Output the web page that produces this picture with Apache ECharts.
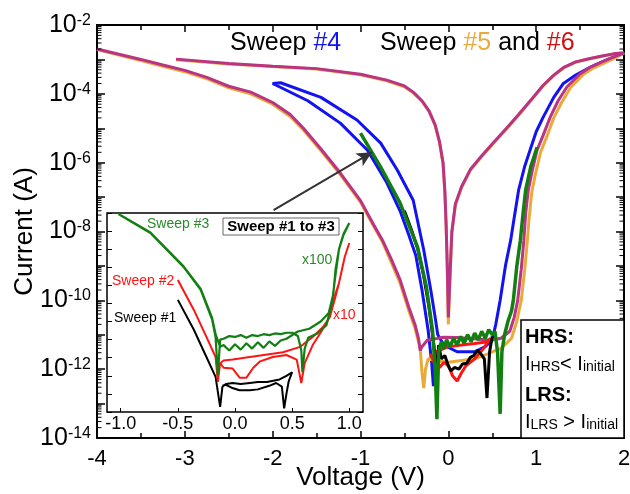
<!DOCTYPE html>
<html><head><meta charset="utf-8">
<script src="https://cdn.jsdelivr.net/npm/echarts@6/dist/echarts.min.js"></script>
<style>html,body{margin:0;padding:0;background:#fff}#c{width:630px;height:494px}</style>
</head><body><div id="c"></div>
<script>
// ---------- data (Voltage V, Current A) ----------
const sweep4 = [[-0.15,3.2e-12],[-0.17,3.2e-13],[-0.19,1.58e-12],[-0.23,1.35e-11],[-0.3,2e-10],[-0.37,2e-9],[-0.45,7.9e-9],[-0.55,4e-8],[-0.7,2.6e-7],[-0.92,2.3e-6],[-1.23,1.41e-5],[-1.6,6.3e-5],[-2.0,2e-4],[-1.91,2.1e-4],[-1.45,7.9e-5],[-1.04,1.74e-5],[-0.77,3.7e-6],[-0.58,6e-7],[-0.4,8.1e-8],[-0.28,2.9e-9],[-0.2,2e-10],[-0.15,3.2e-11],[-0.12,1e-11],[-0.05,5e-12],[0.1,3.2e-12],[0.3,3.2e-12],[0.42,4.5e-12],[0.5,7.1e-12],[0.54,2e-11],[0.59,1e-10],[0.65,1e-9],[0.71,5.6e-9],[0.74,1.74e-8],[0.8,1.58e-7],[0.87,7.9e-7],[0.93,2.3e-6],[1.0,7.9e-6],[1.08,2.1e-5],[1.2,7.9e-5],[1.31,2e-4],[1.45,3.5e-4],[1.62,6e-4],[1.75,8.5e-4],[1.88,1.17e-3],[2.0,1.5e-3]];
const sweep5 = [[-3.1,9.8e-4],[-2.5,7.4e-4],[-2.0,6.2e-4],[-1.5,5.3e-4],[-1.0,3.6e-4],[-0.7,2.4e-4],[-0.5,1.6e-4],[-0.4,1.07e-4],[-0.3,6e-5],[-0.22,3.1e-5],[-0.15,1.2e-5],[-0.1,3.8e-6],[-0.06,9e-7],[-0.04,1.4e-7],[-0.025,1.4e-8],[-0.012,8e-10],[0.0,2e-11],[0.02,5.6e-10],[0.04,9e-9],[0.08,5.8e-8],[0.15,1.9e-7],[0.25,6e-7],[0.38,1.5e-6],[0.52,3.8e-6],[0.68,1.07e-5],[0.8,2.4e-5],[0.95,6.8e-5],[1.08,1.7e-4],[1.2,3.4e-4],[1.32,5.8e-4],[1.45,8.3e-4],[1.6,1.03e-3],[1.75,1.24e-3],[1.88,1.43e-3],[2.0,1.55e-3],[1.9,1.1e-3],[1.78,7.9e-4],[1.65,5.6e-4],[1.53,3.5e-4],[1.39,1.5e-4],[1.29,5.6e-5],[1.2,2e-5],[1.12,5.6e-6],[1.05,2e-6],[0.99,4.5e-7],[0.95,1.4e-7],[0.92,2.5e-8],[0.9,5.6e-9],[0.87,7.9e-10],[0.83,1e-10],[0.78,2.5e-11],[0.72,7.9e-12],[0.6,4e-12],[0.54,3.5e-12],[0.45,2.8e-12],[0.3,2e-12],[0.15,1.78e-12],[0.0,1.58e-12],[-0.15,1.78e-12],[-0.23,2e-12],[-0.26,1e-12],[-0.28,2.8e-13],[-0.3,7.9e-13],[-0.32,4e-12],[-0.35,7.9e-12],[-0.38,1.58e-11],[-0.45,5e-11],[-0.55,3.2e-10],[-0.65,1.26e-9],[-0.75,5e-9],[-0.85,1.41e-8],[-1.0,7.1e-8],[-1.23,4.5e-7],[-1.45,2.2e-6],[-1.65,8.9e-6],[-1.8,2.2e-5],[-2.0,5e-5],[-2.25,1e-4],[-2.5,1.5e-4],[-2.75,2.75e-4],[-3.0,4.4e-4],[-3.25,6.3e-4],[-3.5,9.3e-4],[-3.75,1.35e-3],[-4.0,1.95e-3]];
const sweep6 = [[-3.1,1.02e-3],[-2.5,7.6e-4],[-2.0,6.3e-4],[-1.5,5.4e-4],[-1.0,3.7e-4],[-0.7,2.5e-4],[-0.5,1.7e-4],[-0.4,1.12e-4],[-0.3,6.3e-5],[-0.22,3.2e-5],[-0.15,1.26e-5],[-0.1,4e-6],[-0.06,1e-6],[-0.04,1.58e-7],[-0.025,1.58e-8],[-0.012,1e-9],[0.0,3.2e-11],[0.02,6.3e-10],[0.04,1e-8],[0.08,6.3e-8],[0.15,2e-7],[0.25,6.3e-7],[0.38,1.58e-6],[0.52,4e-6],[0.68,1.12e-5],[0.8,2.5e-5],[0.95,7.1e-5],[1.08,1.78e-4],[1.2,3.5e-4],[1.32,6e-4],[1.45,8.5e-4],[1.6,1.05e-3],[1.75,1.26e-3],[1.88,1.45e-3],[2.0,1.55e-3],[1.88,1.17e-3],[1.75,8.5e-4],[1.62,6e-4],[1.5,3.8e-4],[1.35,1.58e-4],[1.25,6.3e-5],[1.16,2.1e-5],[1.08,6.3e-6],[1.01,2.3e-6],[0.95,5e-7],[0.91,1.58e-7],[0.88,3.2e-8],[0.86,5.6e-9],[0.83,7.9e-10],[0.79,1e-10],[0.75,3.2e-11],[0.7,1.26e-11],[0.6,7.9e-12],[0.48,6.9e-12],[0.3,7.6e-12],[0.1,8.3e-12],[-0.06,8.5e-12],[-0.15,7.6e-12],[-0.24,6.9e-12],[-0.3,4.5e-12],[-0.32,3.5e-12],[-0.34,7.9e-12],[-0.38,2e-11],[-0.45,6.3e-11],[-0.55,4e-10],[-0.65,1.58e-9],[-0.75,5.6e-9],[-0.85,1.58e-8],[-1.0,7.9e-8],[-1.23,5e-7],[-1.45,2.5e-6],[-1.65,1e-5],[-1.8,2.5e-5],[-2.0,5.6e-5],[-2.25,1.12e-4],[-2.5,1.66e-4],[-2.75,3e-4],[-3.0,4.8e-4],[-3.25,6.9e-4],[-3.5,1e-3],[-3.75,1.41e-3],[-4.0,2e-3]];
const sweep3 = [[-1.0,7.2e-6],[-0.77,7.4e-7],[-0.55,6.8e-8],[-0.35,3.5e-9],[-0.25,2.5e-10],[-0.18,1.35e-11],[-0.15,1e-12],[-0.13,3.5e-14],[-0.11,3.2e-12],[-0.08,6.3e-12],[-0.05,4e-12],[-0.02,7.1e-12],[0.02,4.5e-12],[0.06,7.9e-12],[0.1,5e-12],[0.14,8.9e-12],[0.18,5.6e-12],[0.22,1e-11],[0.26,6.3e-12],[0.3,1.12e-11],[0.34,7.1e-12],[0.38,1.26e-11],[0.42,7.9e-12],[0.46,1.41e-11],[0.5,1e-11],[0.53,1.26e-11],[0.56,3.2e-12],[0.59,5e-14],[0.61,3.2e-12],[0.64,1e-11],[0.68,2.5e-11],[0.72,5e-11],[0.74,1e-10],[0.78,1e-9],[0.82,5.6e-9],[0.85,3.2e-8],[0.88,1.58e-7],[0.94,7.9e-7],[1.01,2.8e-6]];
const sweep2 = [[-0.2,2.8e-12],[-0.15,1.26e-12],[-0.1,1.12e-12],[-0.05,1.58e-12],[0.0,1.26e-12],[0.05,6.3e-13],[0.1,4.5e-13],[0.15,7.9e-13],[0.2,1.26e-12],[0.3,2e-12],[0.4,4e-12],[0.48,7.9e-12],[0.45,6.3e-12],[0.3,5.6e-12],[0.15,5e-12],[0.0,4.5e-12],[-0.1,3.5e-12],[-0.15,3.2e-12]];
const sweep1 = [[-0.5,4e-8],[-0.42,1.12e-8],[-0.35,3.2e-9],[-0.28,5e-10],[-0.22,6.3e-11],[-0.18,1e-11],[-0.15,2.5e-12],[-0.13,4e-13],[-0.11,5e-12],[-0.08,2e-12],[-0.04,2.5e-12],[0.0,1.26e-12],[0.03,8.9e-13],[0.07,1.12e-12],[0.12,1e-12],[0.16,1.41e-12],[0.21,1.48e-12],[0.25,2.2e-12],[0.29,2.5e-12],[0.33,3.5e-12],[0.37,2.8e-12],[0.41,2e-12],[0.44,1.45e-13],[0.47,3.2e-12],[0.5,8.9e-12]];
// inset (displayed, scaled) data
const inset3 = [[-1.02,8.7e-4],[-0.74,7.9e-5],[-0.45,1.05e-6],[-0.3,5.6e-8],[-0.2,1.26e-9],[-0.17,1.41e-10],[-0.15,1.12e-12],[-0.13,1e-10],[-0.1,1.12e-10],[-0.05,1.58e-10],[0.0,1.41e-10],[0.05,1.78e-10],[0.1,1.26e-10],[0.15,1.78e-10],[0.2,1.58e-10],[0.25,2e-10],[0.3,1.78e-10],[0.35,2.2e-10],[0.4,2e-10],[0.45,2.4e-10],[0.5,2.4e-10],[0.55,1.58e-10],[0.58,2.5e-11],[0.59,1.58e-12],[0.61,3.2e-11],[0.64,1.26e-10],[0.72,2.2e-10],[0.8,6.3e-10],[0.85,1.26e-8],[0.88,4e-7],[0.91,1e-5],[0.95,7.1e-5],[1.0,2.8e-4],[0.95,6.3e-5],[0.91,1e-5],[0.88,7.9e-7],[0.86,3.2e-8],[0.82,3e-9],[0.75,1e-9],[0.65,4e-10],[0.55,2.8e-10],[0.45,1.12e-10],[0.4,8.9e-11],[0.35,4.5e-11],[0.3,7.9e-11],[0.25,3.5e-11],[0.2,7.1e-11],[0.15,3.2e-11],[0.1,6.3e-11],[0.05,2.8e-11],[0.0,5.6e-11],[-0.05,2.5e-11],[-0.1,5e-11],[-0.13,4e-11],[-0.17,2e-10],[-0.2,1.58e-9],[-0.3,6.3e-8],[-0.45,1.12e-6],[-0.74,8.3e-5],[-1.0,7.6e-4]];
const inset2 = [[-0.5,2e-7],[-0.36,4.4e-9],[-0.25,1.41e-10],[-0.17,1.1e-11],[-0.15,4.6e-13],[-0.13,5e-12],[-0.1,2.8e-12],[-0.02,2.5e-12],[0.04,7.9e-13],[0.1,7.9e-13],[0.16,2.8e-12],[0.22,6.3e-12],[0.33,1.1e-11],[0.45,1.41e-11],[0.54,7.9e-12],[0.58,4e-13],[0.61,5e-12],[0.68,5e-11],[0.75,2.5e-10],[0.83,1.78e-9],[0.88,2.5e-8],[0.91,1.35e-7],[0.96,3.7e-6],[1.0,2.2e-5],[0.96,3.7e-6],[0.91,1.35e-7],[0.87,2.3e-8],[0.83,1.78e-9],[0.77,5e-10],[0.68,1.41e-10],[0.57,4e-11],[0.42,2e-11],[0.13,1.1e-11],[-0.02,7.9e-12],[-0.1,7.1e-12],[-0.13,5e-12]];
const inset1 = [[-0.5,1.58e-8],[-0.36,3.5e-10],[-0.25,1.1e-11],[-0.17,8.7e-13],[-0.13,1.9e-14],[-0.11,2.5e-13],[-0.08,3.5e-13],[-0.02,4e-13],[0.05,3.5e-13],[0.13,4e-13],[0.2,4.5e-13],[0.28,4.6e-13],[0.39,6.3e-13],[0.45,1e-12],[0.5,1.58e-12],[0.47,5e-13],[0.45,1e-13],[0.43,1.58e-14],[0.41,2.5e-13],[0.36,4e-13],[0.3,2.8e-13],[0.2,1.78e-13],[0.13,1.58e-13],[0.04,1.58e-13],[-0.03,2.2e-13],[-0.08,3.2e-13],[-0.11,2.8e-13]];
const arrowFrom = [-1.99, 4.2e-8];
const arrowTo = [-0.87, 2.0e-6];
const xRange = [-4, 2];
const yRange = [1e-14, 1e-2];
const insetX = [-1.12, 1.12];
const insetY = [1e-14, 1e-3];

// ---------- styling ----------
const FONT = "'Liberation Sans', Arial, sans-serif";
const C = {blue:'#1212F2', orange:'#EAA93B', mag:'#BA3483', green:'#127F12', red:'#FF1414', black:'#000', red6:'#D01010'};

const minorVals = [];
for (let d = -14; d < -2; d++) for (let k = 2; k <= 9; k++) minorVals.push([xRange[0], k * Math.pow(10, d)]);

function line(name, data, color, width, xi, yi, z) {
  return {name, type:'line', data, xAxisIndex:xi, yAxisIndex:yi, showSymbol:false, symbol:'none',
    lineStyle:{color, width}, itemStyle:{color}, z: z || 2, silent:true, animation:false};
}
const axisLineStyle = {onZero:false, lineStyle:{color:'#000', width:2}};
const tickStyle = {lineStyle:{color:'#000', width:1.5}};

const chart = echarts.init(document.getElementById('c'), null, {renderer:'canvas'});
const option = {
  animation:false,
  backgroundColor:'#fff',
  textStyle:{fontFamily:FONT},
  grid:[
    {left:97, top:25, width:527, height:413, show:false, containLabel:false, outerBoundsMode:'none'},
    {left:107, top:213, width:256, height:199, show:true, backgroundColor:'#fff', borderColor:'#000', borderWidth:1.5, containLabel:false, outerBoundsMode:'none'}
  ],
  xAxis:[
    {gridIndex:0, type:'value', min:xRange[0], max:xRange[1], interval:1, position:'bottom',
      axisLine:axisLineStyle, axisTick:Object.assign({inside:true, length:7}, tickStyle),
      minorTick:Object.assign({show:true, splitNumber:2, length:5}, tickStyle), splitLine:{show:false},
      axisLabel:{fontSize:22, color:'#000', margin:10, fontFamily:FONT},
      name:'Voltage (V)', nameLocation:'middle', nameGap:27, nameMoveOverlap:false,
      nameTextStyle:{fontSize:26, color:'#000', fontFamily:FONT}},
    {gridIndex:0, type:'value', min:xRange[0], max:xRange[1], interval:1, position:'top',
      axisLine:axisLineStyle, axisTick:Object.assign({inside:true, length:7}, tickStyle),
      minorTick:Object.assign({show:true, splitNumber:2, length:5}, tickStyle), splitLine:{show:false}, axisLabel:{show:false}},
    {gridIndex:1, type:'value', min:insetX[0], max:insetX[1], splitNumber:5, position:'bottom',
      axisLine:{show:false, onZero:false}, axisTick:{inside:true, length:4, lineStyle:{color:'#000', width:1}}, splitLine:{show:false},
      axisLabel:{fontSize:18, color:'#000', margin:3, showMinLabel:false, showMaxLabel:false, fontFamily:FONT,
        formatter:v => (Math.abs(v) < 1e-9 ? 0 : v).toFixed(1)}}
  ],
  yAxis:[
    {gridIndex:0, type:'log', logBase:10, min:yRange[0], max:yRange[1], interval:1, position:'left',
      axisLine:axisLineStyle, axisTick:Object.assign({inside:true, length:8}, tickStyle), splitLine:{show:false},
      axisLabel:{margin:6, color:'#000', fontFamily:FONT,
        formatter:v => { const e = Math.round(Math.log10(v)); return (e % 2 === 0) ? '{b|10}{s|' + e + '}' : ''; },
        rich:{b:{fontSize:25, lineHeight:25, verticalAlign:'top', fontFamily:FONT, color:'#000'},
              s:{fontSize:16, lineHeight:16, verticalAlign:'top', fontFamily:FONT, color:'#000'}}},
      name:'Current (A)', nameLocation:'middle', nameGap:59, nameMoveOverlap:false,
      nameTextStyle:{fontSize:26, color:'#000', fontFamily:FONT}},
    {gridIndex:0, type:'log', logBase:10, min:yRange[0], max:yRange[1], interval:1, position:'right',
      axisLine:axisLineStyle, axisTick:Object.assign({inside:true, length:8}, tickStyle), splitLine:{show:false}, axisLabel:{show:false}},
    {gridIndex:1, type:'log', logBase:10, min:insetY[0], max:insetY[1], interval:1, position:'left',
      axisLine:{show:false, onZero:false}, axisTick:{inside:true, length:5, lineStyle:{color:'#000', width:1}}, splitLine:{show:false}, axisLabel:{show:false}},
    {gridIndex:1, type:'log', logBase:10, min:insetY[0], max:insetY[1], interval:1, position:'right',
      axisLine:{show:false, onZero:false}, axisTick:{inside:true, length:5, lineStyle:{color:'#000', width:1}}, splitLine:{show:false}, axisLabel:{show:false}}
  ],
  series:[
    {type:'custom', xAxisIndex:0, yAxisIndex:0, data:minorVals, silent:true, clip:false, z:3,
      renderItem:(params, api) => {
        const v = api.value(1);
        const a = api.coord([xRange[0], v]);
        const b = api.coord([xRange[1], v]);
        return {type:'group', children:[
          {type:'line', shape:{x1:a[0], y1:a[1], x2:a[0] + 4.5, y2:a[1]}, style:{stroke:'#000', lineWidth:1}},
          {type:'line', shape:{x1:b[0] - 4.5, y1:b[1], x2:b[0], y2:b[1]}, style:{stroke:'#000', lineWidth:1}}
        ]};
      }},
    line('Sweep #4', sweep4, C.blue, 3, 0, 0),
    line('Sweep #5', sweep5, C.orange, 3, 0, 0),
    line('Sweep #6', sweep6, C.mag, 3, 0, 0),
    line('Sweep #2', sweep2, C.red, 3, 0, 0),
    Object.assign(line('Sweep #1', sweep1, C.black, 3, 0, 0), {
      markLine:{silent:true, symbol:['none','arrow'], symbolSize:[11, 15], label:{show:false},
        lineStyle:{color:'#333', width:2, type:'solid'}, emphasis:{disabled:true},
        data:[[{coord:arrowFrom}, {coord:arrowTo}]]}}),
    line('Sweep #3', sweep3, C.green, 3.5, 0, 0),
    line('Inset #1', inset1, C.black, 2, 2, 2, 5),
    line('Inset #2', inset2, C.red, 2, 2, 2, 5),
    line('Inset #3', inset3, C.green, 2.2, 2, 2, 5)
  ],
  graphic:[
    {type:'text', x:230, y:43, z:20, style:{text:'{k|Sweep }{b|#4}', verticalAlign:'middle',
      rich:{k:{fontSize:25, fill:'#000', fontFamily:FONT}, b:{fontSize:25, fill:C.blue, fontFamily:FONT}}}},
    {type:'text', x:380, y:43, z:20, style:{text:'{k|Sweep }{o|#5}{k| and }{r|#6}', verticalAlign:'middle',
      rich:{k:{fontSize:25, fill:'#000', fontFamily:FONT}, o:{fontSize:25, fill:C.orange, fontFamily:FONT}, r:{fontSize:25, fill:C.red6, fontFamily:FONT}}}},
    {type:'rect', z:20, shape:{x:223, y:218, width:116, height:17}, style:{fill:'#fff', stroke:'#666', lineWidth:1}},
    {type:'text', x:281, y:227, z:21, style:{text:'Sweep #1 to #3', fontSize:15, fontWeight:'bold', fill:'#000', align:'center', verticalAlign:'middle', fontFamily:FONT}},
    {type:'text', x:147, y:224, z:21, style:{text:'Sweep #3', fontSize:14, fill:'#2A8A2A', verticalAlign:'middle', fontFamily:FONT}},
    {type:'text', x:112, y:281, z:21, style:{text:'Sweep #2', fontSize:14, fill:C.red, verticalAlign:'middle', fontFamily:FONT}},
    {type:'text', x:114, y:318, z:21, style:{text:'Sweep #1', fontSize:14, fill:'#000', verticalAlign:'middle', fontFamily:FONT}},
    {type:'text', x:302, y:260, z:21, style:{text:'x100', fontSize:14, fill:'#2A8A2A', verticalAlign:'middle', fontFamily:FONT}},
    {type:'text', x:333, y:315, z:21, style:{text:'x10', fontSize:14, fill:C.red, verticalAlign:'middle', fontFamily:FONT}},
    {type:'rect', z:20, shape:{x:521, y:320, width:103, height:118}, style:{fill:'#fff', stroke:'#000', lineWidth:1.5}},
    {type:'text', x:525, y:337, z:21, style:{text:'HRS:', fontSize:20, fontWeight:'bold', fill:'#000', verticalAlign:'middle', fontFamily:FONT}},
    {type:'text', x:525, y:363, z:21, style:{text:'{n|I}{s|HRS}{n|< I}{s|initial}', verticalAlign:'middle',
      rich:{n:{fontSize:20, lineHeight:22, verticalAlign:'bottom', fill:'#000', fontFamily:FONT}, s:{fontSize:14, lineHeight:14, verticalAlign:'bottom', fill:'#000', fontFamily:FONT}}}},
    {type:'text', x:525, y:395, z:21, style:{text:'LRS:', fontSize:20, fontWeight:'bold', fill:'#000', verticalAlign:'middle', fontFamily:FONT}},
    {type:'text', x:525, y:421, z:21, style:{text:'{n|I}{s|LRS}{n| > I}{s|initial}', verticalAlign:'middle',
      rich:{n:{fontSize:20, lineHeight:22, verticalAlign:'bottom', fill:'#000', fontFamily:FONT}, s:{fontSize:14, lineHeight:14, verticalAlign:'bottom', fill:'#000', fontFamily:FONT}}}}
  ]
};
chart.setOption(option);
</script></body></html>
